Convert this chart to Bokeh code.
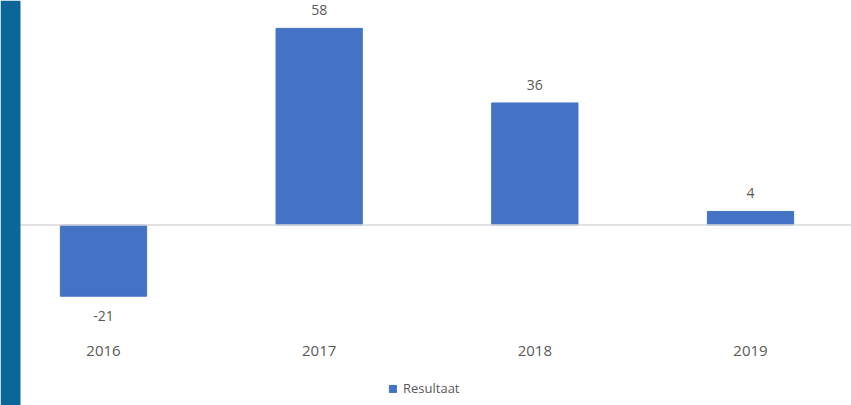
from bokeh.plotting import figure
from bokeh.models import (ColumnDataSource, Range1d, FixedTicker, LabelSet, Span,
                          BoxAnnotation, Legend, LegendItem)
from bokeh.core.properties import value
from bokeh.embed import file_html
from bokeh.resources import INLINE

years = ["2016", "2017", "2018", "2019"]
values = [-21, 58, 36, 4]
series_name = "Resultaat"

xs = list(range(len(years)))
src = ColumnDataSource(dict(x=xs, v=values))
pos = ColumnDataSource(dict(x=[x for x, v in zip(xs, values) if v >= 0],
                            v=[v for v in values if v >= 0],
                            lab=[str(v) for v in values if v >= 0]))
neg = ColumnDataSource(dict(x=[x for x, v in zip(xs, values) if v < 0],
                            v=[v for v in values if v < 0],
                            lab=[str(v) for v in values if v < 0]))

TEXT = "#595959"
FONT = "Open Sans"
YMIN, YMAX = -53.24, 66.22

W, H = 851, 405
p = figure(width=W, height=H, output_backend="svg", toolbar_location=None,
           x_range=Range1d(-0.4776, 3.4683), y_range=Range1d(YMIN, YMAX),
           min_border=0, y_axis_location=None, outline_line_color=None,
           background_fill_color="white", border_fill_color="white")
p.xgrid.visible = False
p.ygrid.visible = False

zero = Span(location=0, dimension="width", line_color="#d9d9d9", line_width=1.5)
p.add_layout(zero)

# decorative blue strip on the left edge
p.add_layout(BoxAnnotation(left=0, right=20, left_units="screen", right_units="screen",
                           fill_color="#0b6799", fill_alpha=1.0, line_color=None))

r = p.vbar(x="x", top="v", bottom=0, width=0.4, source=src,
           fill_color="#4472c4", line_color="#4472c4")

p.add_layout(LabelSet(x="x", y="v", text="lab", source=pos, text_align="center",
                      text_baseline="bottom", y_offset=13, text_color=TEXT,
                      text_font=value(FONT), text_font_size="14px"))
p.add_layout(LabelSet(x="x", y="v", text="lab", source=neg, text_align="center",
                      text_baseline="top", y_offset=-15, text_color=TEXT,
                      text_font=value(FONT), text_font_size="14px"))

ax = p.xaxis[0]
ax.fixed_location = -35
ax.ticker = FixedTicker(ticks=xs)
ax.major_label_overrides = {i: y for i, y in enumerate(years)}
ax.axis_line_color = None
ax.major_tick_line_color = None
ax.minor_tick_line_color = None
ax.major_tick_out = 0
ax.major_tick_in = 0
ax.major_label_standoff = 2
ax.major_label_text_color = TEXT
ax.major_label_text_font = FONT
ax.major_label_text_font_size = "15px"

legend = Legend(items=[LegendItem(label=series_name, renderers=[r])],
                location=(388, 8), orientation="horizontal",
                glyph_width=9, glyph_height=9, label_height=12, label_standoff=6,
                padding=0, spacing=0, margin=0, border_line_color=None,
                background_fill_alpha=0, label_text_color=TEXT,
                label_text_font=FONT, label_text_font_size="13px")
p.add_layout(legend)

open("out.html", "w").write(file_html(p, INLINE))
